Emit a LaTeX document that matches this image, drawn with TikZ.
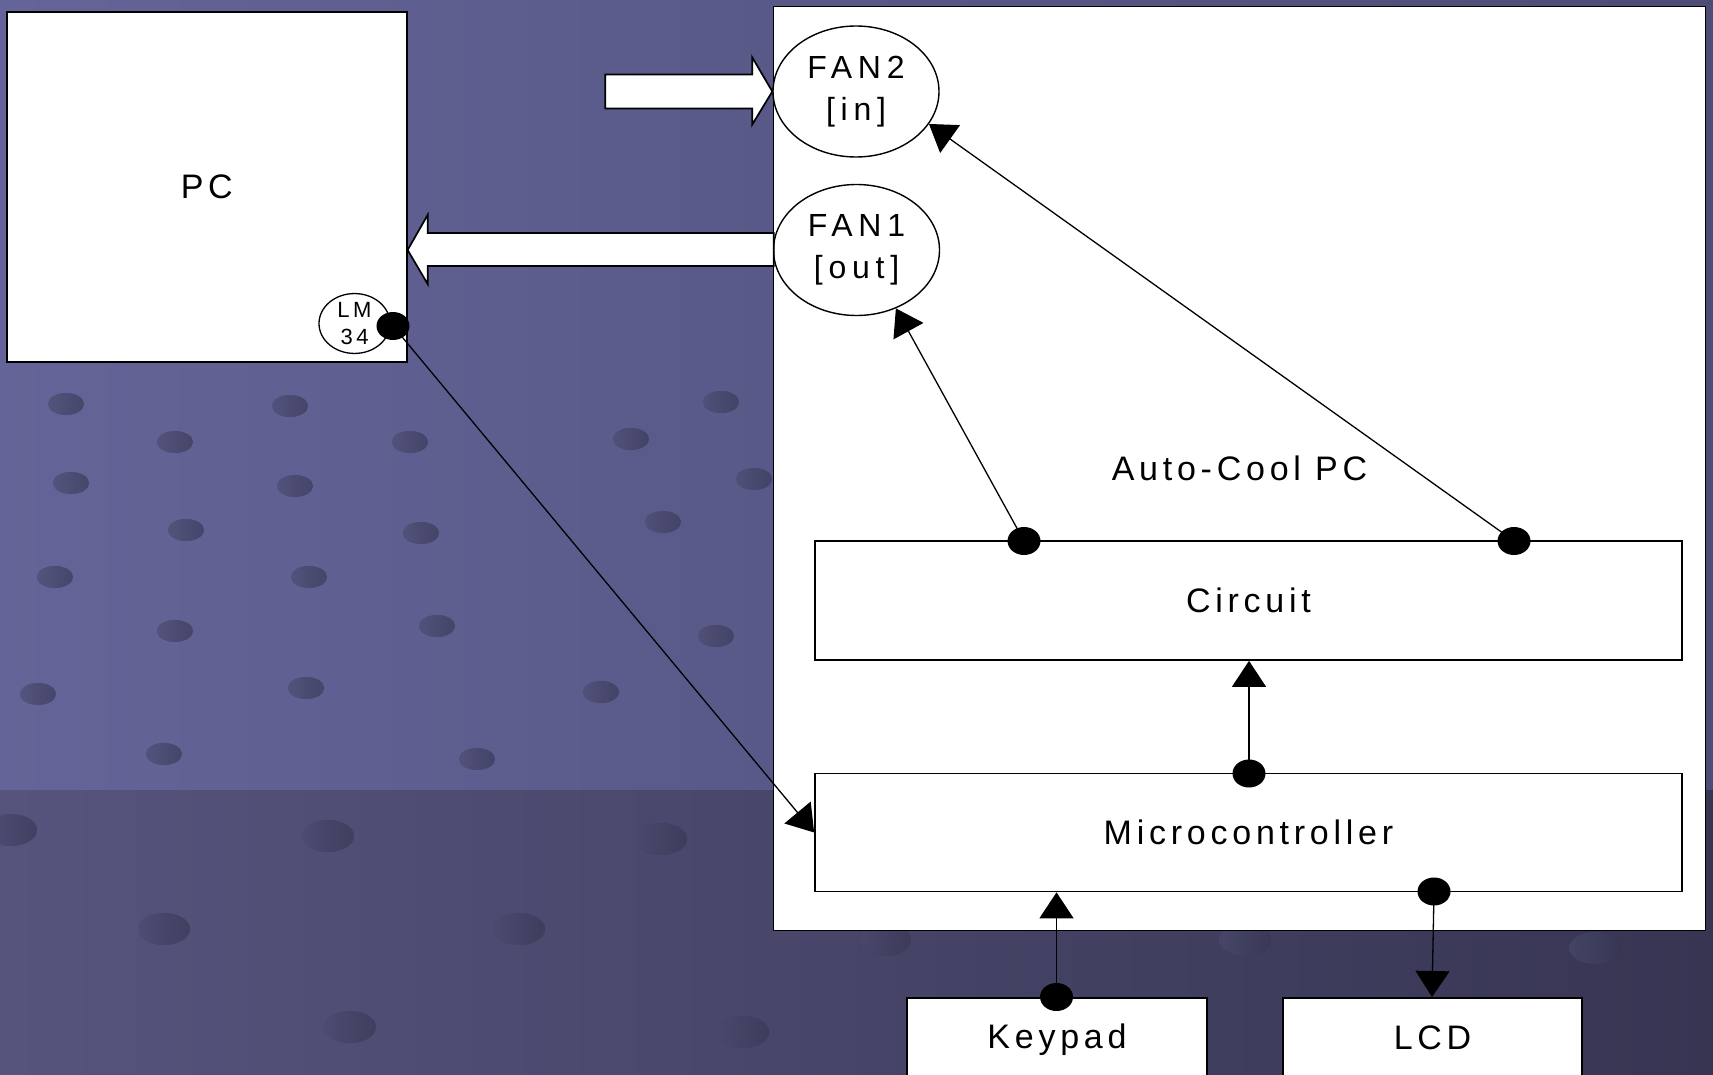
\documentclass[tikz,border=0pt]{standalone}
\usepackage{fontspec}
\setmainfont{Liberation Sans}[LetterSpace=14]
\usetikzlibrary{arrows.meta,shapes.geometric,calc}
\definecolor{bgtopL}{RGB}{100,100,152}
\definecolor{bgtopR}{RGB}{76,76,118}
\definecolor{bgbotL}{RGB}{86,84,125}
\definecolor{bgbotR}{RGB}{55,53,82}
\definecolor{blobL}{RGB}{120,120,178}
\definecolor{blobR}{RGB}{88,88,134}
\tikzset{
  boxnode/.style={draw=black, line width=1.7pt, fill=white, rectangle, inner sep=0pt},
  lbl/.style={font=\fontsize{34}{40}\selectfont},
  fannode/.style={ellipse, draw=black, fill=white, line width=1.4pt, inner sep=0pt,
     minimum width=166pt, minimum height=131pt, align=center,
     font=\addfontfeature{LetterSpace=18}\fontsize{32}{42}\selectfont},
  dotnode/.style={ellipse, fill=black, minimum width=33pt, minimum height=28pt, inner sep=0pt},
  conn/.style={line width=1.3pt, -{Triangle[length=26pt,width=34pt]}},
  blockarrow/.style={draw=black, line width=1.7pt, fill=white, line join=miter},
  blob/.style={left color=blobL, right color=blobR, draw=none, opacity=0.4}
}
\begin{document}
\begin{tikzpicture}[x=1pt,y=-1pt]
\useasboundingbox (0,0) rectangle (1713,1075);
% background
\shade[left color=bgtopL, right color=bgtopR] (0,0) rectangle (1713,790);
\shade[left color=bgbotL, right color=bgbotR] (0,790) rectangle (1713,1075);
% background texture blobs
\foreach \bx/\by in {66/404,290/406,175/442,410/442,71/483,295/486,186/530,421/533,55/577,309/577,175/631,437/626,38/694,306/688,164/754,477/759,601/692,716/636,631/439,663/522,721/402,754/479}
  \fill[blob] (\bx,\by) ellipse [x radius=18, y radius=11];
\foreach \bx/\by in {328/836,661/839,164/929,519/929,350/1027,743/1032,885/940,1245/940,1595/948,11/830}
  \fill[blob] (\bx,\by) ellipse [x radius=26, y radius=16];

% main boxes
\node[boxnode, minimum width=932pt, minimum height=924pt, lbl] (auto) at (1239.5,468.5) {Auto-Cool PC};
\node[boxnode, minimum width=400pt, minimum height=350pt, lbl] (pc) at (206.8,187) {PC};
\node[boxnode, minimum width=867pt, minimum height=119pt, lbl] (circuit) at (1248.5,600.5) {Circuit};
\node[boxnode, minimum width=867pt, minimum height=118pt, lbl] (micro) at (1248.5,832.5) {Microcontroller};
\node[boxnode, minimum width=300pt, minimum height=84pt, anchor=north, lbl] (keypad) at (1057,997) {\raisebox{3pt}{Keypad}};
\node[boxnode, minimum width=299pt, minimum height=84pt, anchor=north, lbl] (lcd) at (1432.5,997) {\raisebox{4pt}{LCD}};

% fans
\node[fannode] (fan2) at (856,91.5) {FAN2\\{}[in]};
\node[fannode] (fan1) at (856.5,250) {FAN1\\{}[out]};

% LM34 sensor
\node[ellipse, draw=black, fill=white, line width=1.3pt, inner sep=0pt, minimum width=71pt, minimum height=57pt,
      align=center, font=\addfontfeature{LetterSpace=16}\fontsize{22}{27}\selectfont] (lm) at (354.5,323.5) {LM\\34};

% block arrows
\draw[blockarrow] (fan2.west) -- ++(-20,-34) -- ++(0,17) -- ++(-147,0) -- ++(0,34) -- ++(147,0) -- ++(0,16) -- cycle;
\coordinate (pctip) at (pc.east |- fan1.west);
\draw[blockarrow] (pctip) -- ++(20,-35) -- ++(0,18) -- ++(346,0) -- ++(0,33) -- ++(-346,0) -- ++(0,18) -- cycle;

% dots
\node[dotnode] (dLM) at (393,326) {};
\node[dotnode] (dC1) at (1024,541) {};
\node[dotnode] (dC2) at (1514,541) {};
\node[dotnode] (dM1) at (1249,773.5) {};
\node[dotnode] (dK) at (1056.5,997) {};
\node[dotnode] (dM2) at (1434,891.5) {};

% connectors
\draw[conn] (dC1.center) -- (fan1.-56);
\draw[conn] (dC2.center) -- (fan2.-24);
\draw[conn] (dM1.center) -- (circuit.south -| dM1);
\draw[conn] (dK.center) -- (micro.south -| dK);
\draw[conn] (dM2.center) -- (lcd.north -| 1432,0);
\draw[conn] (dLM.center) -- (micro.west);
\end{tikzpicture}
\end{document}
